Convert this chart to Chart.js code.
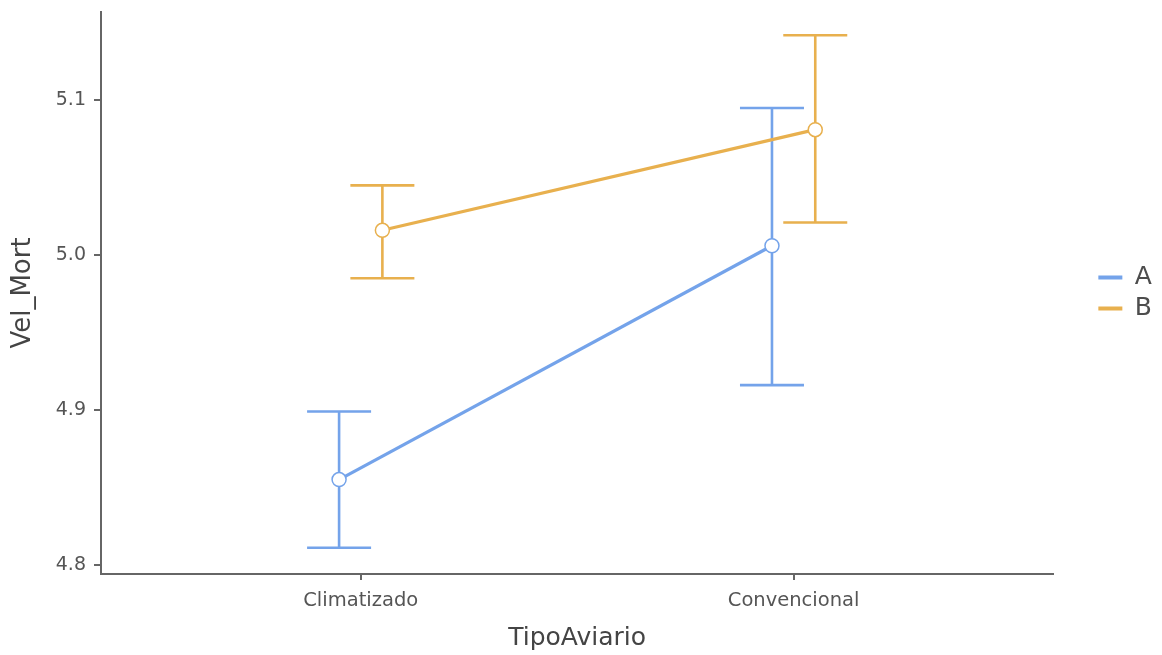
<!DOCTYPE html>
<html>
<head>
<meta charset="utf-8">
<title>Vel_Mort por TipoAviario</title>
<script src="https://cdn.jsdelivr.net/npm/chart.js@4"></script>
<style>
  html, body { margin: 0; padding: 0; background: #fff; }
</style>
</head>
<body>
<canvas id="chart" width="1162" height="655"></canvas>
<script>
const categories = ["Climatizado", "Convencional"];
const groups = ["A", "B"];

// medias y barras de error
const meanA = [4.855, 5.006];
const lowerA = [4.811, 4.916];
const upperA = [4.899, 5.095];
const meanB = [5.016, 5.081];
const lowerB = [4.985, 5.021];
const upperB = [5.045, 5.142];

const yTicks = [4.8, 4.9, 5.0, 5.1];

const colors = ["#74A3EA", "#E8B04E"];
const dodge = [-0.05, 0.05];

Chart.defaults.font.family = "'DejaVu Sans', sans-serif";

// Barras de error con remates
const errorBars = {
  id: "errorBars",
  beforeDatasetsDraw(chart) {
    const { ctx, scales: { x, y } } = chart;
    chart.data.datasets.forEach((ds) => {
      ctx.save();
      ctx.strokeStyle = ds.borderColor;
      ctx.lineWidth = 2.6;
      ds.data.forEach((p, i) => {
        const px = x.getPixelForValue(p.x);
        const top = y.getPixelForValue(ds.upper[i]);
        const bot = y.getPixelForValue(ds.lower[i]);
        const cap = 32;
        ctx.beginPath();
        ctx.moveTo(px, top);
        ctx.lineTo(px, bot);
        ctx.moveTo(px - cap, top);
        ctx.lineTo(px + cap, top);
        ctx.moveTo(px - cap, bot);
        ctx.lineTo(px + cap, bot);
        ctx.stroke();
      });
      ctx.restore();
    });
  },
};

function makeDataset(label, means, lower, upper, idx) {
  return {
    label,
    data: means.map((m, i) => ({ x: i + 1 + dodge[idx], y: m })),
    lower,
    upper,
    showLine: true,
    borderColor: colors[idx],
    borderWidth: 3.2,
    pointRadius: 7,
    pointHoverRadius: 7,
    pointBorderWidth: 1.5,
    pointBackgroundColor: "#fff",
    pointBorderColor: colors[idx],
  };
}

const axisColor = "#666";

new Chart(document.getElementById("chart"), {
  type: "scatter",
  data: {
    datasets: [
      makeDataset(groups[0], meanA, lowerA, upperA, 0),
      makeDataset(groups[1], meanB, lowerB, upperB, 1),
    ],
  },
  options: {
    responsive: false,
    animation: false,
    layout: { padding: { top: 12, left: 0, right: 0, bottom: 0 } },
    plugins: {
      tooltip: { enabled: false },
      legend: {
        position: "right",
        fullSize: false,
        labels: {
          usePointStyle: true,
          pointStyle: "line",
          pointStyleWidth: 24,
          padding: 6,
          color: "#4d4d4d",
          font: { size: 25 },
          generateLabels: (chart) =>
            Chart.defaults.plugins.legend.labels.generateLabels(chart).map((l) => ({
              ...l,
              strokeStyle: colors[l.datasetIndex],
              lineWidth: 4,
            })),
        },
      },
    },
    scales: {
      x: {
        type: "linear",
        min: 0.4,
        max: 2.6,
        afterBuildTicks: (s) => {
          s.ticks = categories.map((c, i) => ({ value: i + 1 }));
        },
        afterFit: (s) => {
          s.height = 81;
        },
        ticks: {
          callback: (v) => categories[v - 1],
          color: "#555",
          font: { size: 19.5 },
          padding: 9,
          maxRotation: 0,
          autoSkip: false,
        },
        grid: { drawOnChartArea: false, color: axisColor, lineWidth: 2, tickLength: 6 },
        border: { color: axisColor, width: 2 },
        title: {
          display: true,
          text: "TipoAviario",
          color: "#444",
          font: { size: 25 },
          padding: { top: 0, bottom: 2 },
        },
      },
      y: {
        min: 4.794,
        max: 5.157,
        afterBuildTicks: (s) => {
          s.ticks = yTicks.map((v) => ({ value: v }));
        },
        afterFit: (s) => {
          s.width = 101;
          s.paddingTop = 0;
          s.paddingBottom = 0;
        },
        ticks: {
          callback: (v) => v.toFixed(1),
          color: "#555",
          font: { size: 19 },
          padding: 8,
        },
        grid: { drawOnChartArea: false, color: axisColor, lineWidth: 2, tickLength: 7 },
        border: { color: axisColor, width: 2 },
        title: {
          display: true,
          text: "Vel_Mort",
          color: "#444",
          font: { size: 26 },
          padding: { top: 8, bottom: 0 },
        },
      },
      // hueco entre el área del gráfico y la leyenda
      gap: {
        type: "linear",
        position: "right",
        display: true,
        grid: { display: false },
        border: { display: false },
        ticks: { display: false },
        afterFit: (s) => {
          s.width = 39;
          s.paddingTop = 0;
          s.paddingBottom = 0;
        },
      },
    },
  },
  plugins: [errorBars],
});
</script>
</body>
</html>
